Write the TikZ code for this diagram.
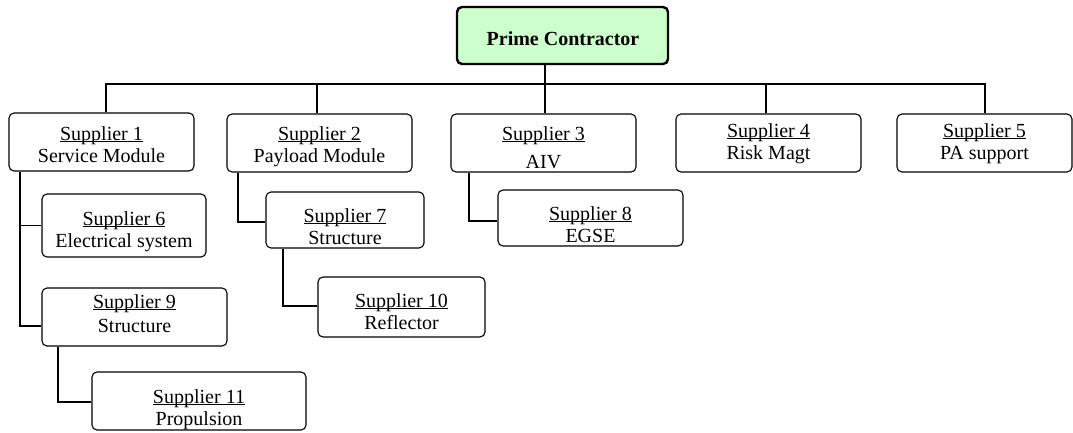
\documentclass[tikz,border=0pt]{standalone}
\usepackage{fontspec}
\setmainfont{Liberation Serif}
\definecolor{primefill}{HTML}{CCFFCC}
\newcommand{\ulx}[1]{\setbox0\hbox{#1}\rlap{\rule[-2.2pt]{\wd0}{1pt}}\box0}
\begin{document}
\begin{tikzpicture}[x=1pt,y=-1pt,
  box/.style={draw, rounded corners=5pt, line width=1.1pt, inner sep=0pt},
  primebox/.style={draw, rounded corners=5pt, line width=2.4pt, fill=primefill, inner sep=0pt},
  lbl/.style={align=center, inner sep=0pt, anchor=north, font=\fontsize{20}{22.5}\selectfont},
  conn/.style={line width=1.1pt}]
\useasboundingbox (0,0) rectangle (1073,432);
% prime
\node[primebox, minimum width=211pt, minimum height=57pt] (prime) at (562.5,35.5) {};
\node[inner sep=0pt, anchor=base, font=\fontsize{20}{22.5}\selectfont\bfseries] (primet) at (563,45) {Prime Contractor};
% level 1
\node[box, minimum width=185pt, minimum height=58pt] (s1) at (101.5,142) {};
\node[box, minimum width=185pt, minimum height=58pt] (s2) at (319.5,143) {};
\node[box, minimum width=185pt, minimum height=58pt] (s3) at (543.5,143) {};
\node[box, minimum width=185pt, minimum height=58pt] (s4) at (768.5,143) {};
\node[box, minimum width=175pt, minimum height=58pt] (s5) at (984.5,143) {};
% level 2+
\node[box, minimum width=164pt, minimum height=63pt] (s6) at (124,225.5) {};
\node[box, minimum width=158pt, minimum height=56pt] (s7) at (345,220) {};
\node[box, minimum width=185pt, minimum height=56pt] (s8) at (590.5,218) {};
\node[box, minimum width=185pt, minimum height=58pt] (s9) at (134.5,317) {};
\node[box, minimum width=167pt, minimum height=60pt] (s10) at (401.5,307) {};
\node[box, minimum width=214pt, minimum height=58pt] (s11) at (199,401) {};
% texts
\node[lbl] (s1t) at (101.5,126) {\ulx{Supplier 1}\\Service Module};
\node[lbl] (s2t) at (319.5,126) {\ulx{Supplier 2}\\Payload Module};
\node[lbl] (s3t) at (543.5,126) {\ulx{Supplier 3}\\[5.5pt]AIV};
\node[lbl] (s4t) at (768.5,123) {\ulx{Supplier 4}\\Risk Magt};
\node[lbl] (s5t) at (984.5,123) {\ulx{Supplier 5}\\PA support};
\node[lbl] (s6t) at (124,211) {\ulx{Supplier 6}\\Electrical system};
\node[lbl] (s7t) at (345,208) {\ulx{Supplier 7}\\Structure};
\node[lbl] (s8t) at (590.5,206) {\ulx{Supplier 8}\\EGSE};
\node[lbl] (s9t) at (134.5,294) {\ulx{Supplier 9}\\[1.5pt]Structure};
\node[lbl] (s10t) at (401.5,293) {\ulx{Supplier 10}\\Reflector};
\node[lbl] (s11t) at (199,389) {\ulx{Supplier 11}\\Propulsion};
% bus coordinates
\coordinate (b1) at (106,84);
\coordinate (b2) at (317,84);
\coordinate (b3) at (545,84);
\coordinate (b4) at (766,84);
\coordinate (b5) at (985,84);
\coordinate (c1) at (20,326);
\coordinate (c9) at (58,402);
\coordinate (c2) at (238,222);
\coordinate (c7) at (283,306);
\coordinate (c3) at (469,221);
% connectors
\draw[conn] (s1.north -| b1) -- (b1) -- (b5) -- (s5.north -| b5);
\draw[conn] (prime.south -| b3) -- (s3.north -| b3);
\draw[conn] (b2) -- (s2.north -| b2);
\draw[conn] (b4) -- (s4.north -| b4);
\draw[conn] (s1.south -| c1) -- (c1) -- (c1 -| s9.west);
\draw[conn] (s6.west -| c1) -- (s6.west);
\draw[conn] (s9.south -| c9) -- (c9) -- (c9 -| s11.west);
\draw[conn] (s2.south -| c2) -- (c2) -- (c2 -| s7.west);
\draw[conn] (s7.south -| c7) -- (c7) -- (c7 -| s10.west);
\draw[conn] (s3.south -| c3) -- (c3) -- (c3 -| s8.west);
\end{tikzpicture}
\end{document}
